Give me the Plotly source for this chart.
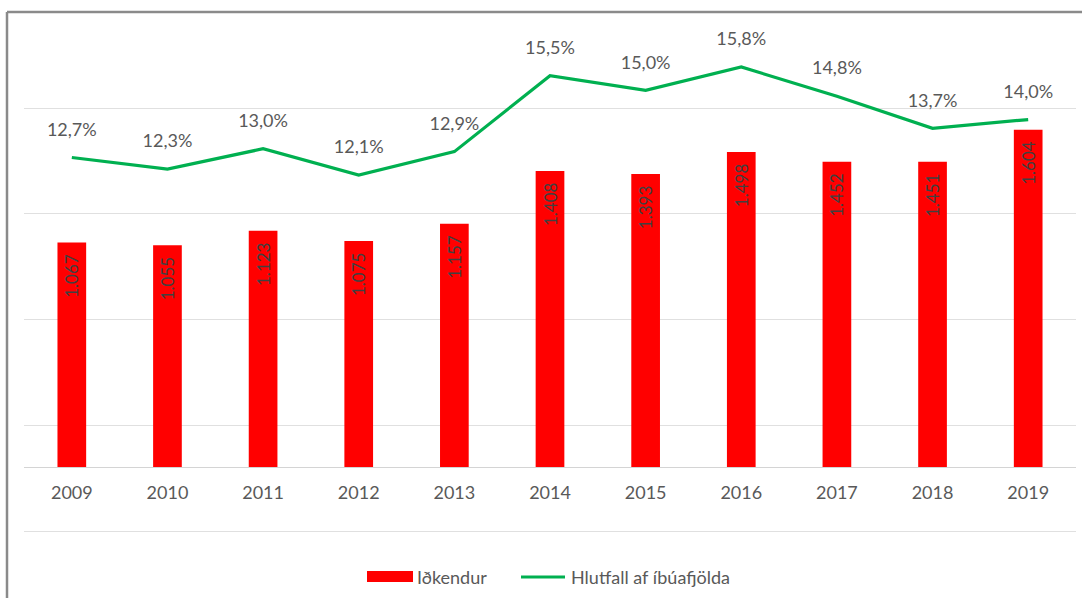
import plotly.graph_objects as go

years = ["2009", "2010", "2011", "2012", "2013", "2014", "2015", "2016", "2017", "2018", "2019"]
participants = [1067, 1055, 1123, 1075, 1157, 1408, 1393, 1498, 1452, 1451, 1604]
share_pct = [12.7, 12.3, 13.0, 12.1, 12.9, 15.5, 15.0, 15.8, 14.8, 13.7, 14.0]

bar_name = "Iðkendur"
line_name = "Hlutfall af íbúafjölda"

W, H = 1082, 598
L, R, T, B = 24, 6, 20, 58
plot_top = T
plot_bot = H - B
ph = plot_bot - plot_top
pw = W - L - R

def py(px):
    return (plot_bot - px) / ph

def pxx(px):
    return (px - L) / pw

# axis scaling targets (pixels)
base_px = 467
bar_scale = 0.2103  # px per participant
y_range = [-(plot_bot - base_px) / bar_scale, (base_px - plot_top) / bar_scale]

p_ref_v, p_ref_px, p_scale = 12.1, 175, 29.19
y2_range = [p_ref_v - (plot_bot - p_ref_px) / p_scale, p_ref_v + (p_ref_px - plot_top) / p_scale]

grid0_px, grid_step = 531, 105.75
y3_range = [-(plot_bot - grid0_px) / grid_step, (grid0_px - plot_top) / grid_step]

bar_text = ["{:,}".format(v).replace(",", ".") + "\u00a0\u00a0" for v in participants]
line_text = [("%.1f" % v).replace(".", ",") + "%" for v in share_pct]

FONT = "Lato"
GRAY = "#595959"

fig = go.Figure()
fig.add_trace(go.Bar(
    x=years, y=participants, name=bar_name,
    marker=dict(color="#FF0000", line=dict(width=0)),
    text=bar_text, textposition="inside", insidetextanchor="end",
    textangle=-90, insidetextfont=dict(family=FONT, size=17, color="#404040"),
    showlegend=False, yaxis="y", cliponaxis=False,
))
fig.add_trace(go.Scatter(
    x=years, y=share_pct, name=line_name, yaxis="y2",
    mode="lines+markers+text",
    line=dict(color="#00B050", width=3.2),
    marker=dict(size=26, color="rgba(0,0,0,0)"),
    text=line_text, textposition="top center",
    textfont=dict(family=FONT, size=18, color=GRAY),
    showlegend=False, cliponaxis=False,
))
# invisible trace to carry the gridline axis
fig.add_trace(go.Scatter(x=[years[0]], y=[None], yaxis="y3", showlegend=False, hoverinfo="skip"))

shapes = [
    # frame
    dict(type="line", xref="paper", yref="paper", x0=pxx(7), x1=pxx(W + 5), y0=py(12), y1=py(12),
         line=dict(color="#8a8a8a", width=2.5)),
    dict(type="line", xref="paper", yref="paper", x0=pxx(7), x1=pxx(7), y0=py(12), y1=py(H + 5),
         line=dict(color="#8a8a8a", width=2.5)),
    # legend swatches
    dict(type="rect", xref="paper", yref="paper", x0=pxx(367), x1=pxx(413), y0=py(582), y1=py(571),
         fillcolor="#FF0000", line=dict(width=0)),
    dict(type="line", xref="paper", yref="paper", x0=pxx(521), x1=pxx(565), y0=py(577), y1=py(577),
         line=dict(color="#00B050", width=3.2)),
]
annotations = [
    dict(text=bar_name, xref="paper", yref="paper", x=pxx(415), y=py(577), xanchor="left", yanchor="middle",
         showarrow=False, font=dict(family=FONT, size=18, color=GRAY)),
    dict(text=line_name, xref="paper", yref="paper", x=pxx(569), y=py(577), xanchor="left", yanchor="middle",
         showarrow=False, font=dict(family=FONT, size=18, color=GRAY)),
]

fig.update_layout(
    template="none",
    width=W, height=H,
    margin=dict(l=L, r=R, t=T, b=B, pad=0, autoexpand=False),
    paper_bgcolor="white", plot_bgcolor="rgba(0,0,0,0)",
    bargap=0.7,
    font=dict(family=FONT, size=18, color=GRAY),
    xaxis=dict(type="category", anchor="free", position=py(base_px), automargin=False,
               range=[-0.5, len(years) - 0.5],
               showline=True, linecolor="#d4d4d4", linewidth=1.3,
               showgrid=False, ticks="", ticklabelstandoff=9,
               tickfont=dict(family=FONT, size=18, color=GRAY)),
    yaxis=dict(range=y_range, visible=False, showgrid=False, zeroline=False, automargin=False),
    yaxis2=dict(range=y2_range, overlaying="y", visible=False, showgrid=False, zeroline=False, automargin=False),
    yaxis3=dict(range=y3_range, overlaying="y", showgrid=True, gridcolor="#e0e0e0", gridwidth=1.3,
                tickvals=[0, 1, 2, 3, 4], showticklabels=False, zeroline=False, ticks="",
                showline=False, automargin=False, layer="below traces"),
    shapes=shapes, annotations=annotations,
    showlegend=False,
)
fig.write_html("out.html", config={"displayModeBar": False},
               post_script="document.body.style.margin='0';document.body.style.overflow='hidden';")
